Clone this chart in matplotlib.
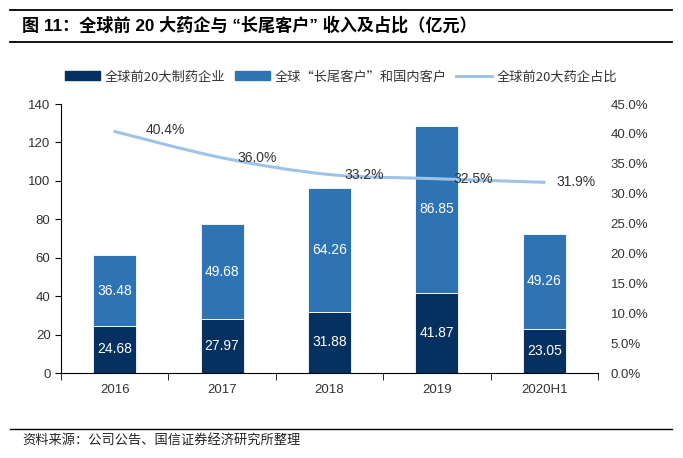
import numpy as np
import matplotlib.pyplot as plt
from matplotlib.path import Path
from matplotlib.patches import PathPatch, Patch
from matplotlib.lines import Line2D
from matplotlib.ticker import FuncFormatter, FixedLocator

plt.rcParams['font.family'] = ['Liberation Sans', 'Noto Sans CJK SC', 'DejaVu Sans']

years = ['2016', '2017', '2018', '2019', '2020H1']
top20 = [24.68, 27.97, 31.88, 41.87, 23.05]
longtail = [36.48, 49.68, 64.26, 86.85, 49.26]
share = [40.4, 36.0, 33.2, 32.5, 31.9]

c_dark = '#04315f'
c_mid = '#2e74b5'
c_line = '#9dc3e6'
c_text = '#333333'
cjk = ['Noto Sans CJK SC', 'DejaVu Sans']

fig = plt.figure(figsize=(6.83, 4.58), dpi=100)
W, H = 683, 458

# title block and source block
fig.add_artist(Line2D([10 / W, 672 / W], [1 - 10 / H] * 2, color='black', lw=1.3))
fig.add_artist(Line2D([10 / W, 672 / W], [1 - 42 / H] * 2, color='black', lw=1.3))
fig.add_artist(Line2D([10 / W, 672 / W], [1 - 429 / H] * 2, color='black', lw=1.0))
fig.text(22 / W, 1 - 25 / H, '图 11：全球前 20 大药企与 “长尾客户” 收入及占比（亿元）',
         fontsize=12.3, fontweight='bold', va='center', ha='left',
         family=['Liberation Sans', 'Noto Sans CJK SC'])
fig.text(22 / W, 1 - 440 / H, '资料来源：公司公告、国信证券经济研究所整理',
         fontsize=9.5, va='center', ha='left', family=cjk, color='#222222')

ax = fig.add_axes([61 / W, 85 / H, 537 / W, 269 / H])
x = np.arange(len(years))
ax.bar(x, top20, width=0.4, color=c_dark, edgecolor='white', linewidth=0.6, zorder=2)
ax.bar(x, longtail, width=0.4, bottom=top20, color=c_mid, edgecolor='white', linewidth=0.6, zorder=2)

for i in range(len(years)):
    ax.text(x[i], top20[i] / 2, f'{top20[i]:.2f}', ha='center', va='center',
            color='white', fontsize=10)
    ax.text(x[i], top20[i] + longtail[i] / 2, f'{longtail[i]:.2f}', ha='center',
            va='center', color='white', fontsize=10)

ax.set_xlim(-0.5, len(years) - 0.5)
ax.set_ylim(0, 140)
ax.set_yticks(np.arange(0, 141, 20))
ax.set_xticks(x)
ax.set_xticklabels(years)
ax.xaxis.set_minor_locator(FixedLocator(np.arange(-0.5, len(years), 1)))
ax.tick_params(axis='x', which='major', length=0, pad=8, labelsize=9.5, labelcolor=c_text)
ax.tick_params(axis='x', which='minor', length=5, direction='out', color='black')
ax.tick_params(axis='y', length=4, direction='out', labelsize=9.5, labelcolor=c_text, color='black')
for s in ['top', 'right']:
    ax.spines[s].set_visible(False)
ax.spines['left'].set_color('black')
ax.spines['bottom'].set_color('black')

ax2 = ax.twinx()
ax2.set_ylim(0, 45)
ax2.set_yticks(np.arange(0, 46, 5))
ax2.yaxis.set_major_formatter(FuncFormatter(lambda v, p: f'{v:.1f}%'))
ax2.tick_params(axis='y', length=0, pad=9, labelsize=9.5, labelcolor=c_text)
for s in ['top', 'right', 'left', 'bottom']:
    ax2.spines[s].set_visible(False)

# smooth line through the share points (Catmull-Rom as cubic Bezier)
pts = np.column_stack([x, share]).astype(float)
ext = np.vstack([pts[0], pts, pts[-1]])
verts = [tuple(pts[0])]
codes = [Path.MOVETO]
for i in range(len(pts) - 1):
    p0, p1, p2, p3 = ext[i], ext[i + 1], ext[i + 2], ext[i + 3]
    verts += [tuple(p1 + (p2 - p0) / 6), tuple(p2 - (p3 - p1) / 6), tuple(p2)]
    codes += [Path.CURVE4] * 3
ax2.add_patch(PathPatch(Path(verts, codes), facecolor='none', edgecolor=c_line,
                        lw=2.2, zorder=3, capstyle='round'))

offs = [(22, 1), (11, 0), (11, 0), (12, 0), (9, 0)]
for i in range(len(years)):
    ax2.annotate(f'{share[i]:.1f}%', (x[i], share[i]), xytext=offs[i],
                 textcoords='offset points', ha='left', va='center',
                 fontsize=10, color=c_text)

handles = [Patch(color=c_dark), Patch(color=c_mid), Line2D([], [], color=c_line, lw=2.2)]
labels = ['全球前20大制药企业', '全球“长尾客户”和国内客户', '全球前20大药企占比']
fig.legend(handles, labels, loc='center', bbox_to_anchor=(341 / W, 1 - 77 / H), ncol=3,
           frameon=False, prop={'family': cjk, 'size': 9.5}, handlelength=2.7,
           handleheight=0.65, columnspacing=0.7, handletextpad=0.35, labelcolor=c_text,
           borderpad=0, borderaxespad=0)

fig.savefig('out.png', dpi=100)
